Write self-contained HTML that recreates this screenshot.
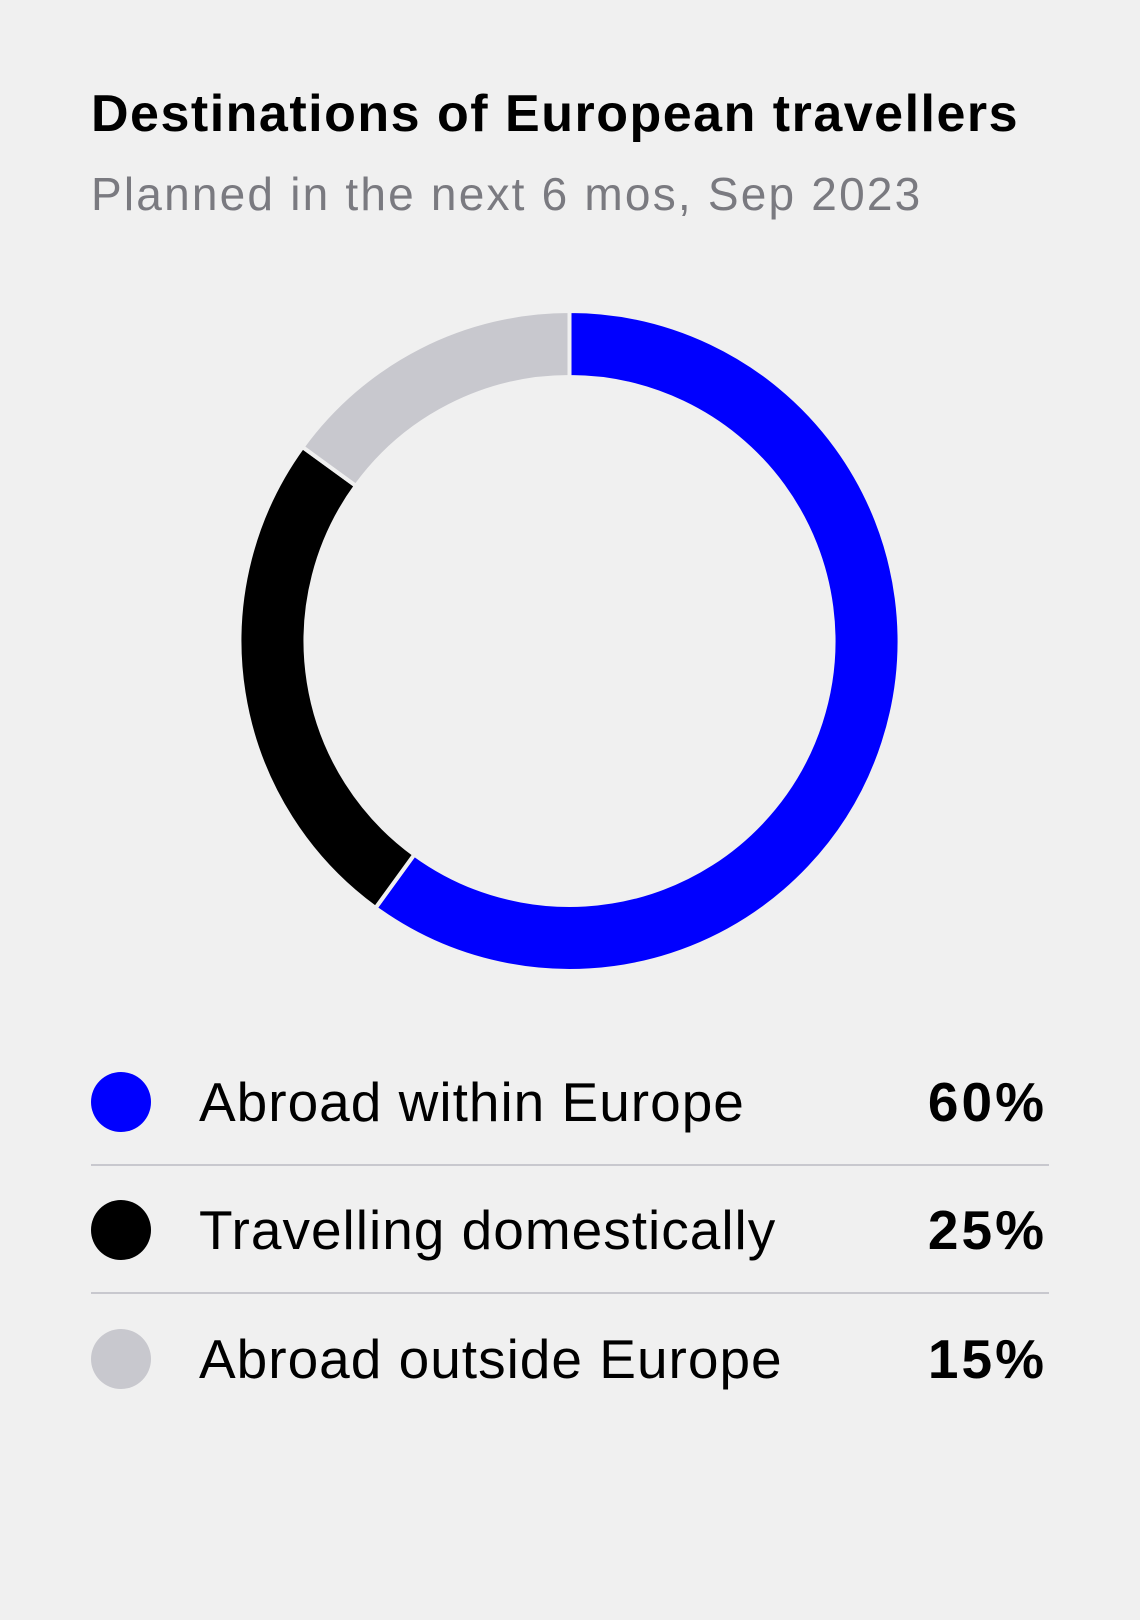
<!DOCTYPE html>
<html><head><meta charset="utf-8"><style>
html,body{margin:0;padding:0;background:#f0f0f0;}
body{width:1140px;height:1620px;position:relative;overflow:hidden;font-family:"Liberation Sans",sans-serif;}
.t{position:absolute;left:91px;top:84px;font-size:52px;font-weight:bold;color:#000;letter-spacing:1.5px;}
.s{position:absolute;left:91px;top:167px;font-size:46px;color:#7a7a80;letter-spacing:2.2px;}
.row{position:absolute;left:91px;width:958px;height:128px;}
.dot{position:absolute;left:0;width:60px;height:60px;border-radius:50%;top:34px;}
.lab{position:absolute;left:108px;top:32px;font-size:55px;color:#000;letter-spacing:1px;}
.val{position:absolute;right:2px;top:32px;font-size:55px;font-weight:bold;color:#000;letter-spacing:3px;}
.div{position:absolute;left:91px;width:958px;height:2px;background:#c8c8ce;}
</style></head><body>
<div class="t">Destinations of European travellers</div>
<div class="s">Planned in the next 6 mos, Sep 2023</div>
<svg id="donut" width="1140" height="1000" style="position:absolute;left:0;top:0"></svg>
<div class="row" style="top:1038px"><div class="dot" style="background:#0000ff"></div><div class="lab">Abroad within Europe</div><div class="val">60%</div></div>
<div class="div" style="top:1164px"></div>
<div class="row" style="top:1166px"><div class="dot" style="background:#000"></div><div class="lab">Travelling domestically</div><div class="val">25%</div></div>
<div class="div" style="top:1292px"></div>
<div class="row" style="top:1295px"><div class="dot" style="background:#c8c8ce"></div><div class="lab">Abroad outside Europe</div><div class="val">15%</div></div>
<script>
const categories=["Abroad within Europe","Travelling domestically","Abroad outside Europe"];
const values=[60,25,15];
const colors=["#0000ff","#000000","#c8c8ce"];
const svg=document.getElementById('donut');
const cx=569.5,cy=641,R=330,r=264;
const total=values.reduce((a,b)=>a+b,0);
function pt(rad,a){return [cx+rad*Math.sin(a),cy-rad*Math.cos(a)];}
let acc=0;
values.forEach((v,i)=>{
  const a0=acc/total*2*Math.PI,a1=(acc+v)/total*2*Math.PI;acc+=v;
  const lg=(a1-a0)>Math.PI?1:0;
  const p1=pt(R,a0),p2=pt(R,a1),p3=pt(r,a1),p4=pt(r,a0);
  const p=document.createElementNS('http://www.w3.org/2000/svg','path');
  p.setAttribute('d',`M${p1}A${R},${R} 0 ${lg} 1 ${p2}L${p3}A${r},${r} 0 ${lg} 0 ${p4}Z`);
  p.setAttribute('fill',colors[i]);
  p.setAttribute('stroke','#f0f0f0');
  p.setAttribute('stroke-width','4');
  
  
  svg.appendChild(p);
});
</script>
</body></html>
